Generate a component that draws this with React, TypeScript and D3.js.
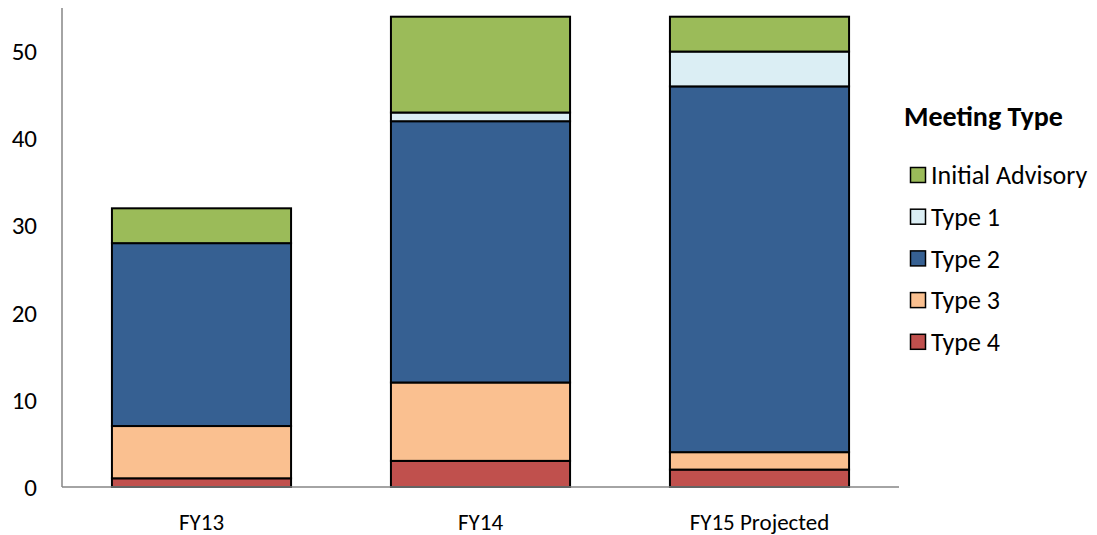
import React from "react";
import * as d3 from "d3";

const categories = ["FY13", "FY14", "FY15 Projected"];
const seriesNames = ["Type 4", "Type 3", "Type 2", "Type 1", "Initial Advisory"];
const type4 = [1, 3, 2];
const type3 = [6, 9, 2];
const type2 = [21, 30, 42];
const type1 = [0, 1, 4];
const initialAdvisory = [4, 11, 4];
const yTicks = [0, 10, 20, 30, 40, 50];
const colors = ["#C0504D", "#FAC090", "#366092", "#DBEEF4", "#9BBB59"];
const legendOrder = ["Initial Advisory", "Type 1", "Type 2", "Type 3", "Type 4"];

const W = 1097, H = 535;
const left = 62, right = 899, top = 8, bottom = 487;
const font = "Carlito, Calibri, Lato, 'Open Sans', sans-serif";

export default function App() {
  const values = [type4, type3, type2, type1, initialAdvisory];
  const rows = categories.map((c, i) => {
    const r: any = { cat: c };
    seriesNames.forEach((s, k) => (r[s] = values[k][i]));
    return r;
  });
  const stack = d3.stack<any>().keys(seriesNames)(rows);
  const x = d3.scaleBand().domain(categories).range([left, right]).paddingInner(0.358).paddingOuter(0.179);
  const y = d3.scaleLinear().domain([0, 55]).range([bottom, top]);

  return (
    <svg width={W} height={H} style={{ display: "block", position: "absolute", left: 0, top: 0 }}>
      <rect width={W} height={H} fill="#fff" />
      {stack.map((layer, k) => (
        <g key={layer.key}>
          {layer.map((d, i) =>
            d[1] - d[0] > 0 ? (
              <rect
                key={i}
                x={x(categories[i])!}
                y={y(d[1])}
                width={x.bandwidth()}
                height={y(d[0]) - y(d[1])}
                fill={colors[k]}
                stroke="#000"
                strokeWidth={2}
              />
            ) : null
          )}
        </g>
      ))}
      <line x1={left} x2={left} y1={top} y2={bottom} stroke="#868686" strokeWidth={1.5} />
      <line x1={left} x2={right} y1={bottom} y2={bottom} stroke="#868686" strokeWidth={1.5} />
      {yTicks.map((t) => (
        <text key={t} x={37} y={y(t)} dy="0.35em" textAnchor="end" fontFamily={font} fontSize={25} fill="#000">
          {t}
        </text>
      ))}
      {categories.map((c) => (
        <text key={c} x={x(c)! + x.bandwidth() / 2} y={522} dy="0.35em" textAnchor="middle" fontFamily={font} fontSize={23} fill="#000">
          {c}
        </text>
      ))}
      <text x={904} y={116} dy="0.35em" fontFamily={font} fontSize={28} fontWeight="bold" fill="#000">
        Meeting Type
      </text>
      {legendOrder.map((s, i) => {
        const k = seriesNames.indexOf(s);
        const cy = 175 + i * 41.7;
        return (
          <g key={s}>
            <rect x={910.5} y={cy - 7.5} width={15} height={15} fill={colors[k]} stroke="#000" strokeWidth={1.5} />
            <text x={931} y={cy} dy="0.35em" fontFamily={font} fontSize={26} fill="#000">
              {s}
            </text>
          </g>
        );
      })}
    </svg>
  );
}
